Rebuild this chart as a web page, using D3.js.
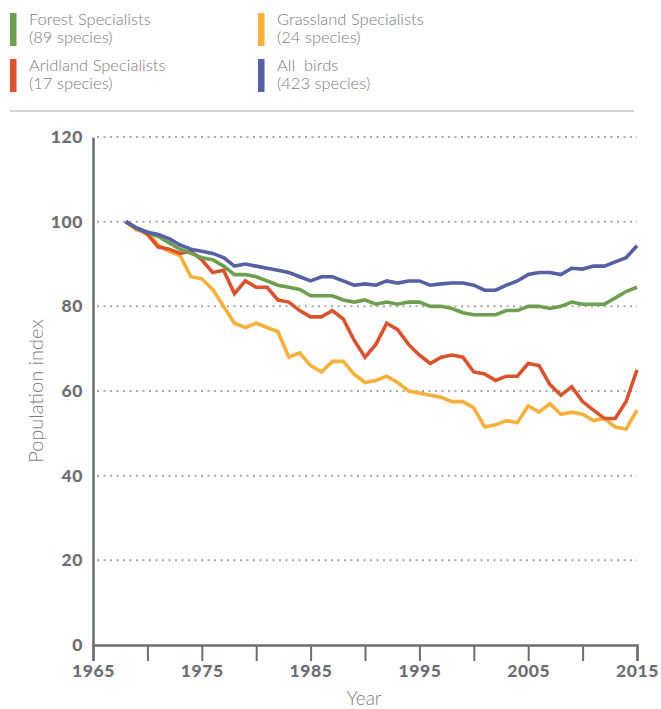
<!DOCTYPE html>
<html>
<head>
<meta charset="utf-8">
<script src="https://cdn.jsdelivr.net/npm/d3@7"></script>
<style>
  html, body { margin: 0; padding: 0; background: #fff; }
  svg { display: block; }
</style>
</head>
<body>
<svg id="chart" width="661" height="709"></svg>
<script>
const years = d3.range(1968, 2016);

const forest = [100, 98.5, 97.5, 96.5, 95, 93.5, 92.5, 91.5, 91, 89.5, 87.5, 87.5, 87, 86, 85, 84.5, 84, 82.5, 82.5, 82.5, 81.5, 81, 81.5, 80.5, 81, 80.5, 81, 81, 80, 80, 79.5, 78.5, 78, 78, 78, 79, 79, 80, 80, 79.5, 80, 81, 80.5, 80.5, 80.5, 82, 83.5, 84.5];
const grassland = [100, 98, 97.5, 94.5, 93, 92, 87, 86.5, 84, 80, 76, 75, 76, 75, 74, 68, 69, 66, 64.5, 67, 67, 64, 62, 62.5, 63.5, 62, 60, 59.5, 59, 58.5, 57.5, 57.5, 56, 51.5, 52, 53, 52.5, 56.5, 55, 57, 54.5, 55, 54.5, 53, 53.5, 51.5, 51, 55.5];
const aridland = [100, 98.5, 97, 94, 93.5, 92.5, 93, 91, 88, 88.5, 83, 86, 84.5, 84.5, 81.5, 81, 79, 77.5, 77.5, 79, 77, 72, 68, 71, 76, 74.5, 71, 68.5, 66.5, 68, 68.5, 68, 64.5, 64, 62.5, 63.5, 63.5, 66.5, 66, 61.5, 59, 61, 57.5, 55.5, 53.5, 53.5, 57.5, 65];
const allBirds = [100, 98.5, 97.5, 97, 96, 94.5, 93.5, 93, 92.5, 91.5, 89.5, 90, 89.5, 89, 88.5, 88, 87, 86, 87, 87, 86, 85, 85.3, 85, 86, 85.5, 86, 86, 85, 85.3, 85.5, 85.5, 85, 83.8, 83.8, 85, 86, 87.5, 88, 88, 87.5, 89, 88.8, 89.5, 89.5, 90.5, 91.5, 94.3];

const xTicks = [1965, 1970, 1975, 1980, 1985, 1990, 1995, 2000, 2005, 2010, 2015];
const xTickLabels = ["1965", "", "1975", "", "1985", "", "1995", "", "2005", "", "2015"];
const yTicks = [0, 20, 40, 60, 80, 100, 120];

const legendNames = ["Forest Specialists", "Grassland Specialists", "Aridland Specialists", "All\u00a0\u00a0birds"];
const legendCounts = ["(89 species)", "(24 species)", "(17 species)", "(423 species)"];
const colors = ["#6e9e4f", "#f6b03c", "#d9532f", "#5660a4"];

const svg = d3.select("#chart");
const textGray = "#7d7d80";
const axisGray = "#6d6e71";

// Legend
const legendPos = [[10, 13], [258, 13], [10, 59], [258, 59]];
legendNames.forEach((name, i) => {
  const [lx, ly] = legendPos[i];
  svg.append("rect").attr("x", lx).attr("y", ly).attr("width", 6.5).attr("height", 33).attr("fill", colors[i]);
  svg.append("text").attr("x", lx + 19).attr("y", ly + 11.5)
    .attr("font-family", "Lato, sans-serif").attr("font-weight", 300).attr("font-size", 16.5)
    .attr("fill", textGray).text(name);
  svg.append("text").attr("x", lx + 19).attr("y", ly + 30)
    .attr("font-family", "Lato, sans-serif").attr("font-weight", 300).attr("font-size", 16.5)
    .attr("fill", textGray).text(legendCounts[i]);
});
svg.append("line").attr("x1", 10).attr("x2", 634).attr("y1", 111).attr("y2", 111)
  .attr("stroke", "#c8c8c8").attr("stroke-width", 1.5);

// Scales
const x = d3.scaleLinear().domain([1965, 2015]).range([93, 637]);
const y = d3.scaleLinear().domain([0, 120]).range([645, 137]);

// Gridlines
svg.append("g").selectAll("line").data(yTicks.filter(d => d > 0)).join("line")
  .attr("x1", x(1965) + 4).attr("x2", x(2015)).attr("y1", d => y(d)).attr("y2", d => y(d))
  .attr("stroke", "#a7a7a9").attr("stroke-width", 2).attr("stroke-dasharray", "2,4.5");

// Y axis
const yAxis = svg.append("g").attr("transform", `translate(${x(1965)},0)`)
  .call(d3.axisLeft(y).tickValues(yTicks).tickSize(0).tickPadding(10));
yAxis.select(".domain").attr("stroke", axisGray).attr("stroke-width", 2.5);
yAxis.selectAll("text").attr("font-family", "Lato, sans-serif").attr("font-weight", 900)
  .attr("font-size", 17.5).attr("letter-spacing", 0.6).attr("fill", axisGray);

// X axis
const xAxis = svg.append("g").attr("transform", `translate(0,${y(0)})`)
  .call(d3.axisBottom(x).tickValues(xTicks).tickFormat((d, i) => xTickLabels[i]).tickSize(16).tickPadding(4));
xAxis.select(".domain").attr("stroke", axisGray).attr("stroke-width", 2.5);
xAxis.selectAll(".tick line").attr("stroke", axisGray).attr("stroke-width", 2);
xAxis.selectAll("text").attr("font-family", "Lato, sans-serif").attr("font-weight", 900)
  .attr("font-size", 17.5).attr("letter-spacing", 0.6).attr("fill", axisGray);

// Axis titles
svg.append("text").attr("x", 364).attr("y", 705)
  .attr("text-anchor", "middle").attr("font-family", "Lato, sans-serif").attr("font-weight", 300)
  .attr("font-size", 19).attr("fill", textGray).text("Year");
svg.append("text").attr("transform", `translate(43,391) rotate(-90)`)
  .attr("text-anchor", "middle").attr("font-family", "Lato, sans-serif").attr("font-weight", 300)
  .attr("font-size", 20).attr("fill", textGray).text("Population index");

// Lines
const line = d3.line().x((d, i) => x(years[i])).y(d => y(d));
const series = [grassland, aridland, forest, allBirds];
const seriesColors = [colors[1], colors[2], colors[0], colors[3]];
series.forEach((s, i) => {
  svg.append("path").datum(s).attr("d", line).attr("fill", "none")
    .attr("stroke", seriesColors[i]).attr("stroke-width", 3.6)
    .attr("stroke-linejoin", "miter").attr("stroke-linecap", "butt");
});
</script>
</body>
</html>
